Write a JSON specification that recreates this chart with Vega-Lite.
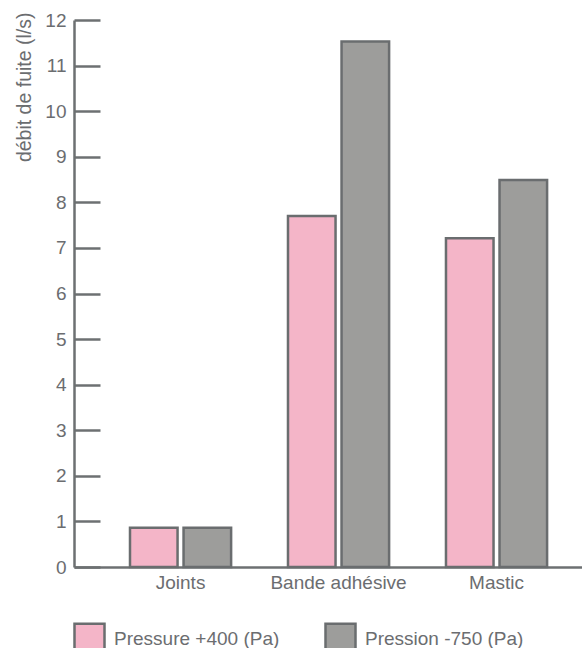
{
  "$schema": "https://vega.github.io/schema/vega-lite/v6.json",
  "autosize": "none",
  "width": 508,
  "height": 547,
  "padding": {"left": 74, "top": 20, "right": 0, "bottom": 81},
  "background": "white",
  "config": {
    "view": {"stroke": null},
    "font": "Liberation Sans",
    "axis": {"grid": false, "domainColor": "#6d7072", "domainWidth": 2.5, "tickColor": "#6d7072", "tickWidth": 2.5, "labelColor": "#6b6d70", "labelFont": "Liberation Sans", "labelFontSize": 19, "titleFont": "Liberation Sans", "titleColor": "#6b6d70", "titleFontWeight": "normal"}
  },
  "data": {
    "values": [
      {"categorie": "Joints", "serie": "Pressure +400 (Pa)", "debit": 0.86},
      {"categorie": "Joints", "serie": "Pression -750 (Pa)", "debit": 0.86},
      {"categorie": "Bande adhésive", "serie": "Pressure +400 (Pa)", "debit": 7.7},
      {"categorie": "Bande adhésive", "serie": "Pression -750 (Pa)", "debit": 11.53},
      {"categorie": "Mastic", "serie": "Pressure +400 (Pa)", "debit": 7.21},
      {"categorie": "Mastic", "serie": "Pression -750 (Pa)", "debit": 8.49}
    ]
  },
  "mark": {"type": "bar", "stroke": "#6a6d6f", "strokeWidth": 2.5},
  "encoding": {
    "x": {
      "field": "categorie", "type": "nominal",
      "sort": ["Joints", "Bande adhésive", "Mastic"],
      "scale": {"paddingInner": 0.36, "paddingOuter": 0.2877, "align": 0.616},
      "axis": {"title": null, "labelAngle": 0, "ticks": false, "labelPadding": 6}
    },
    "xOffset": {
      "field": "serie", "type": "nominal",
      "sort": ["Pressure +400 (Pa)", "Pression -750 (Pa)"],
      "scale": {"paddingInner": 0.112, "paddingOuter": 0}
    },
    "y": {
      "field": "debit", "type": "quantitative",
      "scale": {"domain": [0, 12], "nice": false},
      "axis": {"values": [0,1,2,3,4,5,6,7,8,9,10,11,12], "tickSize": -26, "labelPadding": 34, "title": "débit de fuite (l/s)", "titleFontSize": 19.5, "titleAnchor": "end", "titleX": -44, "titleY": -8, "titleAlign": "right", "titleAngle": 270, "titleBaseline": "alphabetic"}
    },
    "color": {
      "field": "serie", "type": "nominal",
      "sort": ["Pressure +400 (Pa)", "Pression -750 (Pa)"],
      "scale": {"domain": ["Pressure +400 (Pa)", "Pression -750 (Pa)"], "range": ["#f4b5c8", "#9d9d9b"]},
      "legend": {"title": null, "orient": "none", "legendX": -1, "legendY": 602, "direction": "horizontal", "symbolType": "square", "symbolSize": 900, "symbolStrokeColor": "#6a6d6f", "symbolStrokeWidth": 2.5, "symbolOpacity": 1, "labelFontSize": 19, "labelLimit": 400, "labelColor": "#6b6d70", "labelOffset": 8, "columnPadding": 40}
    }
  }
}
